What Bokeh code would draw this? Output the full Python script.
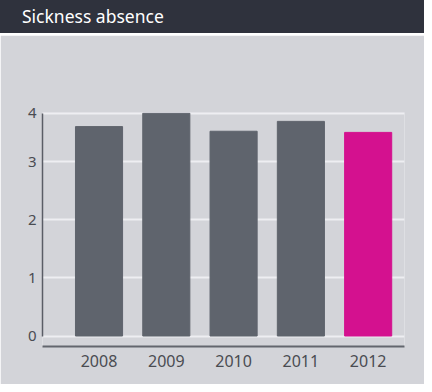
from bokeh.plotting import figure
from bokeh.models import Div, FixedTicker, ColumnDataSource
from bokeh.layouts import column
from bokeh.embed import file_html
from bokeh.resources import INLINE

title_text = "Sickness absence"
years = ["2008", "2009", "2010", "2011", "2012"]
values = [3.61, 3.84, 3.53, 3.70, 3.51]
bar_colors = ["#5f646d", "#5f646d", "#5f646d", "#5f646d", "#d4118f"]
ytick_values = [0, 1, 2, 3, 3.84]
ytick_labels = ["0", "1", "2", "3", "4"]

FONT = "Noto Sans"
BG = "#d3d4d9"

header = Div(
    text=title_text,
    width=424, height=35,
    styles={
        "background-color": "#2f323d",
        "color": "#ffffff",
        "font-family": FONT,
        "font-size": "17.5px",
        "line-height": "33px",
        "padding-left": "22px",
        "box-sizing": "border-box",
        "width": "424px",
        "height": "35px",
        "border-bottom": "2px solid #ffffff",
        "overflow": "hidden",
    },
    margin=(0, 0, 0, 0),
)

xs = list(range(len(years)))
src = ColumnDataSource(dict(x=xs, top=values, color=bar_colors))

p = figure(
    width=424, height=349,
    x_range=(-0.84, 4.54), y_range=(-0.181, 3.853),
    output_backend="svg", toolbar_location=None,
    min_border_left=42, min_border_right=20,
    min_border_top=77, min_border_bottom=38,
    background_fill_color=BG, border_fill_color=BG,
    outline_line_color=None,
)
p.margin = (0, 0, 0, 0)

p.vbar(x="x", top="top", bottom=0, width=0.7, color="color", source=src)

# x axis
p.xaxis.ticker = FixedTicker(ticks=xs)
p.xaxis.major_label_overrides = {i: y for i, y in zip(xs, years)}
p.xaxis.major_tick_line_color = None
p.xaxis.minor_tick_line_color = None
p.xaxis.axis_line_color = "#63666e"
p.xaxis.axis_line_width = 2
p.xaxis.major_label_text_font = FONT
p.xaxis.major_label_text_font_size = "16px"
p.xaxis.major_label_text_color = "#4a4c52"
p.xaxis.major_label_standoff = 2
p.xgrid.grid_line_color = None

# y axis
p.yaxis.ticker = FixedTicker(ticks=ytick_values)
p.yaxis.major_label_overrides = {v: l for v, l in zip(ytick_values, ytick_labels)}
p.yaxis.bounds = (0, ytick_values[-1])
p.yaxis.major_tick_line_color = None
p.yaxis.minor_tick_line_color = None
p.yaxis.axis_line_color = "#5a5d66"
p.yaxis.axis_line_width = 1.5
p.yaxis.major_label_text_font = FONT
p.yaxis.major_label_text_font_size = "15px"
p.yaxis.major_label_text_color = "#4a4c52"
p.yaxis.major_label_standoff = 0
p.ygrid.grid_line_color = "#eeeef2"
p.ygrid.grid_line_width = 2
p.ygrid.level = "underlay"

layout = column(header, p, spacing=0)
open("out.html", "w").write(file_html(layout, INLINE))
